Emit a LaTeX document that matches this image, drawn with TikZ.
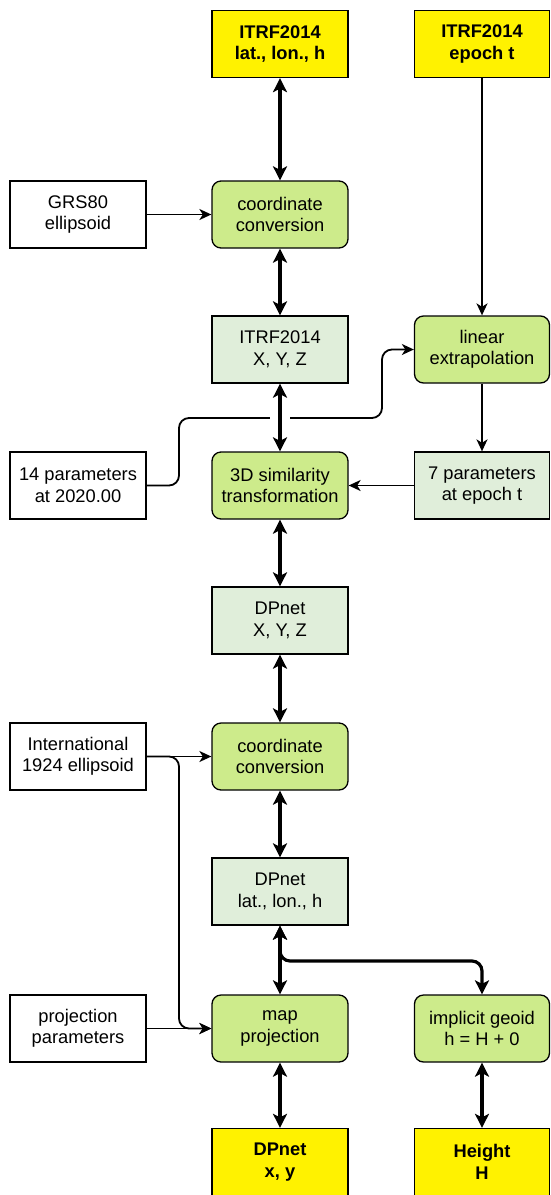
\documentclass[tikz,border=0pt]{standalone}
\usepackage{fontspec}
\setmainfont{Liberation Sans}
\usetikzlibrary{arrows.meta}
\definecolor{cgreen}{HTML}{CDEB8B}
\definecolor{lgreen}{HTML}{E0EEDA}
\begin{document}
\begin{tikzpicture}[x=1pt,y=-1pt,
  box/.style={draw=black, line width=1.3pt, minimum width=136pt, minimum height=67pt,
    align=center, inner sep=0pt, font=\fontsize{18.3}{21.5}\selectfont},
  wbox/.style={box, fill=white},
  ybox/.style={box, fill=yellow, font=\fontsize{18.3}{21.5}\selectfont\bfseries},
  gbox/.style={box, fill=cgreen, rounded corners=9pt},
  lbox/.style={box, fill=lgreen},
  bigarr/.style={line width=3.2pt, {Stealth[length=14pt,width=14pt,inset=3.5pt]}-{Stealth[length=14pt,width=14pt,inset=3.5pt]}},
  smallarr/.style={line width=1.8pt, -{Stealth[length=12pt,width=11pt,inset=3.5pt]}}]
\useasboundingbox (0,0) rectangle (550,1195);
% column x: 78, 280, 482 ; rows
\node[ybox] (itrfllh) at (280,44) {ITRF2014\\lat., lon., h};
\node[ybox, minimum width=135pt] (epoch) at (482,44) {ITRF2014\\epoch t};
\node[wbox] (grs) at (78,214.5) {GRS80\\ellipsoid};
\node[gbox] (cc1) at (280,214.5) {coordinate\\conversion};
\node[lbox] (itrfxyz) at (280,349.5) {ITRF2014\\X, Y, Z};
\node[gbox, minimum width=135pt] (linex) at (482,349.5) {linear\\extrapolation};
\node[wbox] (p14) at (78,485.5) {14 parameters\\at 2020.00};
\node[gbox] (sim3d) at (280,485.5) {3D similarity\\transformation};
\node[lbox, minimum width=135pt] (p7) at (482,485.5) {7 parameters\\at epoch t};
\node[lbox] (dpxyz) at (280,620.5) {DPnet\\X, Y, Z};
\node[wbox] (intl) at (78,756.5) {International\\1924 ellipsoid};
\node[gbox] (cc2) at (280,756.5) {coordinate\\conversion};
\node[lbox] (dpllh) at (280,891.5) {DPnet\\lat., lon., h};
\node[wbox] (pp) at (78,1028.5) {projection\\parameters};
\node[gbox] (mapproj) at (280,1028.5) {map\\projection};
\node[gbox, minimum width=135pt] (geoid) at (482,1028.5) {implicit geoid\\h = H + 0};
\node[ybox] (dpxy) at (280,1162) {DPnet\\x, y};
\node[ybox, minimum width=135pt] (height) at (482,1162) {Height\\H};
% connectors
\draw[bigarr] (itrfllh) -- (cc1);
\draw[smallarr] (epoch) -- (linex);
\draw[smallarr] (grs) -- (cc1);
\draw[bigarr] (cc1) -- (itrfxyz);
\coordinate (j1) at (179,485.5);
\coordinate (j2) at (179,418);
\coordinate (j3) at (382,418);
\coordinate (j4) at (382,349.5);
\draw[smallarr, rounded corners=10pt] (p14.east) -- (j1) -- (j2) -- (j3) -- (j4) -- (linex.west);
\coordinate (g1) at (270,418);
\coordinate (g2) at (290,418);
\draw[white, line width=4pt] (g1) -- (g2);
\draw[bigarr] (itrfxyz) -- (sim3d);
\draw[smallarr] (linex) -- (p7);
\draw[smallarr] (p7) -- (sim3d);
\draw[bigarr] (sim3d) -- (dpxyz);
\draw[bigarr] (dpxyz) -- (cc2);
\draw[smallarr] (intl) -- (cc2);
\coordinate (k1) at (179,756.5);
\coordinate (k2) at (179,1028.5);
\draw[smallarr, rounded corners=10pt] (intl.east) -- (k1) -- (k2) -- (mapproj.west);
\draw[smallarr] (pp) -- (mapproj);
\draw[bigarr] (cc2) -- (dpllh);
\coordinate (m1) at (280,961);
\coordinate (m2) at (482,961);
\draw[bigarr, rounded corners=10pt] (dpllh.south) -- (m1) -- (m2) -- (geoid.north);
\draw[bigarr] (dpllh) -- (mapproj);
\draw[bigarr] (mapproj) -- (dpxy);
\draw[bigarr] (geoid) -- (height);
\end{tikzpicture}
\end{document}
